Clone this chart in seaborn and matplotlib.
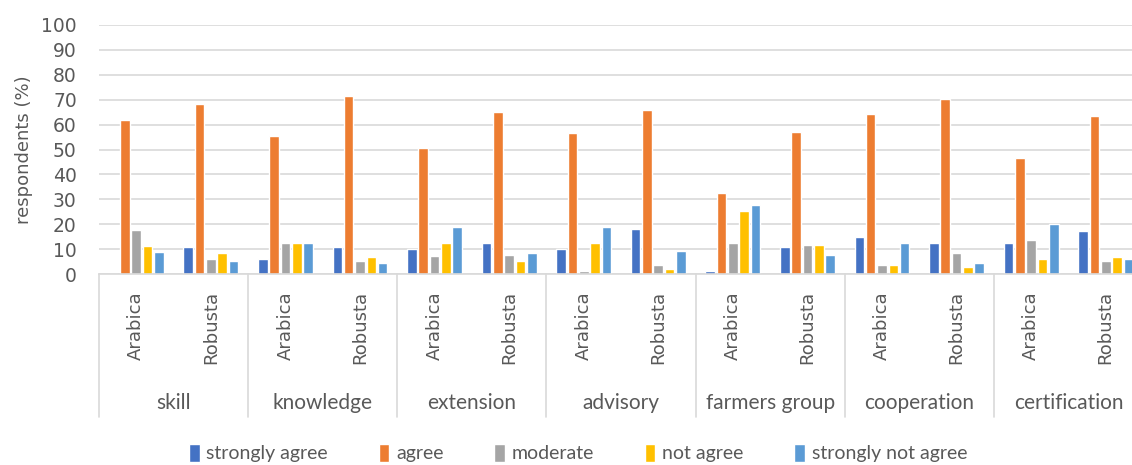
import numpy as np
import pandas as pd
import seaborn as sns
import matplotlib.pyplot as plt
import matplotlib.transforms as mtransforms

# Survey categories and response levels
groups = ["skill", "knowledge", "extension", "advisory",
          "farmers group", "cooperation", "certification"]
varieties = ["Arabica", "Robusta"]
levels = ["strongly agree", "agree", "moderate", "not agree", "strongly not agree"]

# Share of respondents (%) per group/variety, in order skill-Arabica, skill-Robusta, ...
strongly_agree = [0.0, 10.8, 6.2, 10.8, 10.0, 12.4, 10.0, 18.1, 1.1, 10.8, 14.9, 12.4, 12.4, 17.3]
agree = [61.8, 68.1, 55.6, 71.4, 50.5, 64.9, 56.6, 65.7, 32.7, 56.9, 64.3, 70.3, 46.6, 63.3]
moderate = [17.7, 6.2, 12.4, 5.4, 7.4, 7.6, 1.1, 3.7, 12.4, 11.6, 3.6, 8.4, 13.8, 5.2]
not_agree = [11.2, 8.6, 12.4, 7.0, 12.4, 5.2, 12.4, 2.1, 25.2, 11.6, 3.6, 2.9, 6.0, 6.8]
strongly_not_agree = [8.7, 5.4, 12.4, 4.6, 18.7, 8.4, 18.7, 9.4, 27.6, 7.6, 12.4, 4.4, 20.1, 6.2]

colors = ["#4472C4", "#ED7D31", "#A5A5A5", "#FFC000", "#5B9BD5"]

series = [strongly_agree, agree, moderate, not_agree, strongly_not_agree]
slots = [f"{g}|{v}" for g in groups for v in varieties]
rows = []
for level, vals in zip(levels, series):
    for slot, val in zip(slots, vals):
        rows.append({"slot": slot, "level": level, "value": val})
df = pd.DataFrame(rows)

sns.set_theme(style="white")
plt.rcParams["font.family"] = ["DejaVu Sans"]
text_color = "#595959"
grid_color = "#D9D9D9"

fig = plt.figure(figsize=(11.32, 4.65), dpi=100)
ax = fig.add_axes([99 / 1132, 1 - 274 / 465, 1044 / 1132, 249 / 465])

sns.barplot(data=df, x="slot", y="value", hue="level", order=slots,
            hue_order=levels, palette=colors, width=0.76, gap=0.15,
            saturation=1, ax=ax, legend=True)

ax.set_ylim(0, 100)
ax.set_xlim(-0.5, len(slots) - 0.5)
ax.set_yticks(np.arange(0, 101, 10))
ax.yaxis.grid(True, color=grid_color, linewidth=1.2)
ax.set_axisbelow(True)
for side in ["left", "right", "top"]:
    ax.spines[side].set_visible(False)
ax.spines["bottom"].set_color(grid_color)
ax.spines["bottom"].set_linewidth(1.2)
ax.tick_params(axis="y", length=0, pad=16, labelsize=13.5, labelcolor=text_color)
ax.set_xticks([])
ax.set_xlabel("")
ax.set_ylabel("respondents (%)", fontsize=13, color=text_color, labelpad=6)

# Two-level category axis
trans = mtransforms.blended_transform_factory(ax.transData, ax.transAxes)
for i, slot in enumerate(slots):
    g, v = slot.split("|")
    ax.text(i, -0.068, v, rotation=90, ha="center", va="top", transform=trans,
            fontsize=13, color=text_color)
for k, g in enumerate(groups):
    ax.text(2 * k + 0.5, -0.52, g, ha="center", va="center", transform=trans,
            fontsize=15, color=text_color, family=["Lato", "DejaVu Sans"])
for k in range(len(groups) + 1):
    ax.plot([2 * k - 0.5, 2 * k - 0.5], [0, -0.574], transform=trans,
            color=grid_color, linewidth=1.2, clip_on=False)

leg = ax.legend(loc="center", bbox_to_anchor=(578 / 1132, 1 - 453 / 465),
                bbox_transform=fig.transFigure, ncol=5, frameon=False,
                handlelength=0.55, handleheight=1.1, handletextpad=0.35,
                columnspacing=2.6, prop={"family": ["Lato", "DejaVu Sans"], "size": 14})
for t in leg.get_texts():
    t.set_color(text_color)

fig.savefig("out.png", dpi=100)
